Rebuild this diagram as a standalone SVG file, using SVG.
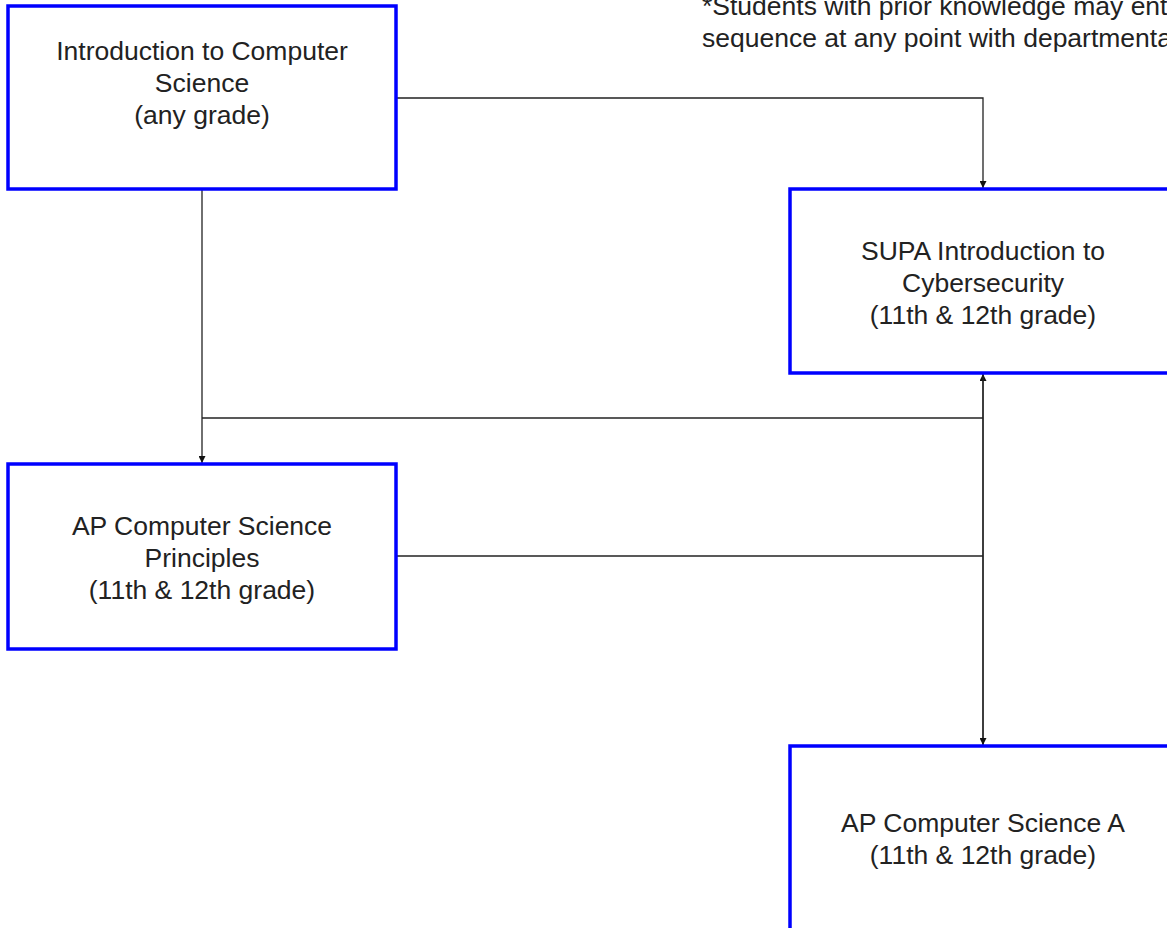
<svg xmlns="http://www.w3.org/2000/svg" width="1167" height="928" viewBox="0 0 1167 928">
<defs>
<style>
.box{fill:#ffffff;stroke:#0000ff;stroke-width:3.5}
.t{font-family:"Liberation Sans",Arial,sans-serif;font-size:26.5px;fill:#222222;text-anchor:middle}
.note{font-family:"Liberation Sans",Arial,sans-serif;font-size:26.5px;fill:#222222}
.c{fill:none;stroke:#222222;stroke-width:1.3}
</style>
<marker id="ah" viewBox="0 0 10 10" refX="10" refY="5" markerWidth="8" markerHeight="7" markerUnits="userSpaceOnUse" orient="auto">
<path d="M0,0 L10,5 L0,10 z" fill="#111111"/>
</marker>
</defs>
<rect width="1167" height="928" fill="#ffffff"/>
<g id="connectors">
<path class="c" d="M396,98 H983 V188" marker-end="url(#ah)"/>
<path class="c" d="M202,189 V463" marker-end="url(#ah)"/>
<path class="c" d="M202,418 H983"/>
<path class="c" d="M396,556 H983"/>
<path class="c" d="M983,745 V374" marker-end="url(#ah)"/>
<path class="c" d="M983,374 V745" marker-end="url(#ah)"/>
</g>
<g id="note">
<text class="note" x="702" y="15">*Students with prior knowledge may ent</text>
<text class="note" x="702" y="47">sequence at any point with departmenta</text>
</g>
<g id="intro-cs">
<rect class="box" x="8" y="6" width="388" height="183"/>
<text class="t" x="202" y="60">Introduction to Computer</text>
<text class="t" x="202" y="92">Science</text>
<text class="t" x="202" y="124">(any grade)</text>
</g>
<g id="supa-cyber">
<rect class="box" x="790" y="189" width="388" height="184"/>
<text class="t" x="983" y="260">SUPA Introduction to</text>
<text class="t" x="983" y="292">Cybersecurity</text>
<text class="t" x="983" y="324">(11th &amp; 12th grade)</text>
</g>
<g id="ap-csp">
<rect class="box" x="8" y="464" width="388" height="185"/>
<text class="t" x="202" y="535">AP Computer Science</text>
<text class="t" x="202" y="567">Principles</text>
<text class="t" x="202" y="599">(11th &amp; 12th grade)</text>
</g>
<g id="ap-csa">
<rect class="box" x="790" y="746" width="388" height="190"/>
<text class="t" x="983" y="832">AP Computer Science A</text>
<text class="t" x="983" y="864">(11th &amp; 12th grade)</text>
</g>
</svg>
